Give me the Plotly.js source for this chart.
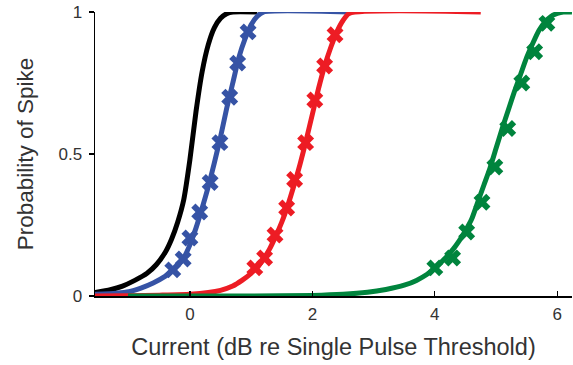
<!DOCTYPE html>
<html>
<head>
<meta charset="utf-8">
<script src="https://cdn.plot.ly/plotly-3.0.1.min.js"></script>
<style>html,body{margin:0;padding:0;background:#fff;}#chart{width:573px;height:365px;}</style>
</head>
<body>
<div id="chart"></div>
<script>
// Fitted curves
var blackX = [-1.55, -1.3, -1.1, -0.9, -0.7, -0.55, -0.4, -0.3, -0.2, -0.1, 0, 0.1, 0.2, 0.3, 0.4, 0.5, 0.6, 0.7, 1.1];
var blackY = [0.012, 0.022, 0.035, 0.055, 0.08, 0.11, 0.155, 0.2, 0.26, 0.34, 0.48, 0.65, 0.79, 0.885, 0.945, 0.978, 0.994, 1, 1];

var blueX = [-1.55, -1.2, -1.0, -0.8, -0.6, -0.4, -0.25, -0.1, 0, 0.1, 0.2, 0.3, 0.4, 0.5, 0.6, 0.7, 0.8, 0.9, 1.0, 1.1, 1.2, 2.6];
var blueY = [0.006, 0.01, 0.015, 0.028, 0.046, 0.07, 0.095, 0.135, 0.18, 0.24, 0.31, 0.385, 0.47, 0.56, 0.66, 0.75, 0.84, 0.905, 0.955, 0.985, 1.0, 1.0];

var redX = [-1.55, -1.0, -0.5, 0, 0.3, 0.5, 0.7, 0.85, 1.0, 1.1, 1.2, 1.3, 1.4, 1.5, 1.6, 1.7, 1.8, 1.9, 2.0, 2.1, 2.2, 2.3, 2.4, 2.5, 2.6, 4.75];
var redY = [0.0, 0.001, 0.003, 0.006, 0.012, 0.02, 0.035, 0.055, 0.08, 0.1, 0.13, 0.165, 0.21, 0.26, 0.32, 0.39, 0.465, 0.55, 0.64, 0.73, 0.81, 0.875, 0.93, 0.97, 0.995, 1.0];

var greenX = [-1.01, 1.0, 2.0, 2.5, 2.9, 3.2, 3.5, 3.7, 3.9, 4.0, 4.1, 4.2, 4.3, 4.4, 4.5, 4.6, 4.7, 4.8, 4.9, 5.0, 5.1, 5.2, 5.3, 5.4, 5.5, 5.6, 5.7, 5.8, 5.9, 6.0, 6.1, 6.24];
var greenY = [0, 0, 0.002, 0.006, 0.013, 0.023, 0.038, 0.055, 0.08, 0.097, 0.118, 0.14, 0.165, 0.195, 0.23, 0.27, 0.33, 0.39, 0.45, 0.52, 0.59, 0.655, 0.72, 0.78, 0.84, 0.89, 0.935, 0.965, 0.985, 0.995, 1.0, 1.0];

// Measured points
var blueMX = [-0.28, -0.11, 0.0, 0.16, 0.33, 0.49, 0.65, 0.78, 0.95];
var blueMY = [0.092, 0.13, 0.204, 0.296, 0.40, 0.54, 0.70, 0.82, 0.93];
var redMX = [1.06, 1.22, 1.39, 1.58, 1.71, 1.89, 2.04, 2.20, 2.37];
var redMY = [0.099, 0.134, 0.215, 0.31, 0.41, 0.54, 0.69, 0.81, 0.92];
var greenMX = [4.0, 4.29, 4.52, 4.77, 4.98, 5.19, 5.42, 5.63, 5.83];
var greenMY = [0.099, 0.134, 0.225, 0.33, 0.454, 0.59, 0.75, 0.86, 0.96];

var xTicks = [0, 2, 4, 6];
var yTicks = [0, 0.5, 1];
var yTickText = ['0', '0.5', '1'];

var cBlack = '#000000', cBlue = '#3653a5', cRed = '#ed1c24', cGreen = '#00843d';
var lw = 5;

function line(x, y, c) {
  return {x: x, y: y, mode: 'lines', line: {color: c, width: lw, shape: 'spline', smoothing: 0.6}, hoverinfo: 'skip', showlegend: false};
}
function marks(x, y, c) {
  return {x: x, y: y, mode: 'markers', marker: {symbol: 'x', size: 15, color: c, line: {width: 0}}, hoverinfo: 'skip', showlegend: false, cliponaxis: false};
}

var data = [
  line(blackX, blackY, cBlack),
  line(blueX, blueY, cBlue),
  marks(blueMX, blueMY, cBlue),
  line(redX, redY, cRed),
  marks(redMX, redMY, cRed),
  line(greenX, greenY, cGreen),
  marks(greenMX, greenMY, cGreen)
];

var layout = {
  width: 573, height: 365,
  margin: {l: 95, r: 1, t: 12, b: 69},
  paper_bgcolor: '#fff', plot_bgcolor: '#fff',
  font: {family: 'Liberation Sans, Arial, sans-serif', size: 17, color: '#333'},
  xaxis: {
    range: [-1.55, 6.24], tickvals: xTicks, ticktext: xTicks.map(String),
    ticks: 'inside', ticklen: 5, tickwidth: 1.2, tickcolor: '#000',
    showline: true, linecolor: '#000', linewidth: 1.5, showgrid: false, zeroline: false,
    tickfont: {size: 17, color: '#333'}, ticklabelstandoff: 2,
    title: {text: 'Current (dB re Single Pulse Threshold)', font: {size: 23.5, color: '#333'}, standoff: 15}
  },
  yaxis: {
    range: [0, 1], tickvals: yTicks, ticktext: yTickText,
    ticks: 'outside', ticklen: 5, tickwidth: 1.2, tickcolor: '#000',
    showline: true, linecolor: '#000', linewidth: 1.5, showgrid: false, zeroline: false,
    tickfont: {size: 17, color: '#333'}, ticklabelstandoff: 3,
    title: {text: 'Probability of Spike', font: {size: 22.5, color: '#333'}, standoff: 18}
  }
};

Plotly.newPlot('chart', data, layout, {staticPlot: true, displayModeBar: false});
</script>
</body>
</html>
